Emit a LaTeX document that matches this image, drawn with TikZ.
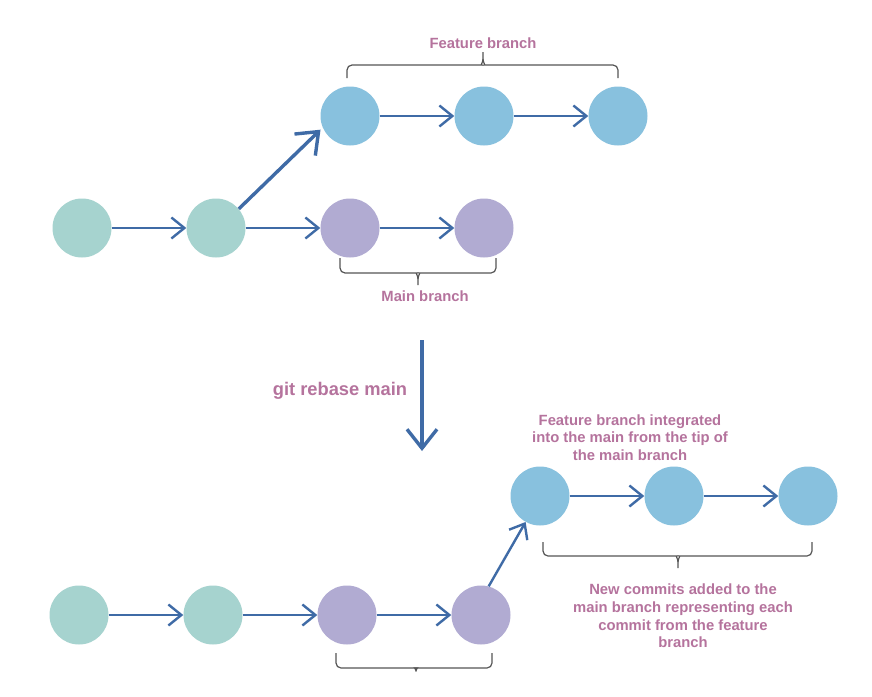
\documentclass[tikz,border=0pt]{standalone}
\usepackage{fontspec}
\setmainfont{Liberation Sans}
\usetikzlibrary{arrows.meta}
\definecolor{cgreen}{HTML}{A6D3CF}
\definecolor{cblue}{HTML}{88C1DE}
\definecolor{cpurple}{HTML}{B1ABD2}
\definecolor{carrow}{HTML}{3F6BA6}
\definecolor{ctext}{HTML}{B5739D}
\definecolor{cbrace}{HTML}{555555}
\tikzset{
  commit/.style={circle, minimum size=59pt, inner sep=0pt, draw=none},
  gc/.style={commit, fill=cgreen},
  bc/.style={commit, fill=cblue},
  pc/.style={commit, fill=cpurple},
  arr/.style={draw=carrow, line width=2.4pt, -{Straight Barb[length=13pt,width=21pt,line width=2.4pt]}},
  bigarr/.style={draw=carrow, line width=3.4pt, -{Straight Barb[length=19pt,width=30pt,line width=3.4pt]}},
  brc/.style={draw=cbrace, line width=1.2pt},
  lbl/.style={text=ctext, font=\bfseries\fontsize{14.8}{17.6}\selectfont, align=center, inner sep=0pt},
}
\begin{document}
\begin{tikzpicture}[x=1pt,y=-1pt]
\useasboundingbox[fill=white] (0,0) rectangle (872,696);
% top graph
\node[gc] (g1) at (82,228) {};
\node[gc] (g2) at (216,228) {};
\node[pc] (m1) at (350,228) {};
\node[pc] (m2) at (484,228) {};
\node[bc] (f1) at (350,116) {};
\node[bc] (f2) at (484,116) {};
\node[bc] (f3) at (618,116) {};
\draw[arr] (g1) -- (g2);
\draw[arr] (g2) -- (m1);
\draw[arr] (m1) -- (m2);
\draw[arr] (f1) -- (f2);
\draw[arr] (f2) -- (f3);
\draw[bigarr, shorten >=3pt] (g2.40) -- (f1.203);
% braces top
\draw[brc] (347,78) [rounded corners=5pt] -- (347,65) -- (477,65) [sharp corners] to[out=0,in=-90] (483,59) -- (483,52);
\draw[brc] (618,78) [rounded corners=5pt] -- (618,65) -- (489,65) [sharp corners] to[out=180,in=-90] (483,59);
\node[lbl] (tfeat) at (483,43) {Feature branch};
\draw[brc] (340,258) [rounded corners=5pt] -- (340,273) -- (412,273) [sharp corners] to[out=0,in=90] (418,279) -- (418,285);
\draw[brc] (496,258) [rounded corners=5pt] -- (496,273) -- (424,273) [sharp corners] to[out=180,in=90] (418,279);
\node[lbl] (tmain) at (425,296) {Main branch};
% rebase arrow
\coordinate (d1) at (422,340);
\coordinate (d2) at (422,451);
\draw[bigarr] (d1) -- (d2);
\node[lbl, font=\bfseries\fontsize{18.3}{22}\selectfont] (treb) at (340,391) {git rebase main};
% bottom graph
\node[gc] (h1) at (79,615) {};
\node[gc] (h2) at (213,615) {};
\node[pc] (n1) at (347,615) {};
\node[pc] (n2) at (481,615) {};
\node[bc] (e1) at (540,496) {};
\node[bc] (e2) at (674,496) {};
\node[bc] (e3) at (808,496) {};
\draw[arr] (h1) -- (h2);
\draw[arr] (h2) -- (n1);
\draw[arr] (n1) -- (n2);
\draw[arr] (n2.75) -- (e1.241);
\draw[arr] (e1) -- (e2);
\draw[arr] (e2) -- (e3);
\draw[brc] (336,653) [rounded corners=5pt] -- (336,668) -- (411,668) [sharp corners] to[out=0,in=90] (416,670.5) -- (416,671.5);
\draw[brc] (492,653) [rounded corners=5pt] -- (492,668) -- (421,668) [sharp corners] to[out=180,in=90] (416,670.5);
\draw[brc] (543,542) [rounded corners=5pt] -- (543,556) -- (672,556) [sharp corners] to[out=0,in=90] (678,562) -- (678,568);
\draw[brc] (812,542) [rounded corners=5pt] -- (812,556) -- (684,556) [sharp corners] to[out=180,in=90] (678,562);
\node[lbl] (tinteg) at (630,437.5) {Feature branch integrated\\into the main from the tip of\\the main branch};
\node[lbl] (tnew) at (683,616) {New commits added to the\\main branch representing each\\commit from the feature\\branch};
\end{tikzpicture}
\end{document}
